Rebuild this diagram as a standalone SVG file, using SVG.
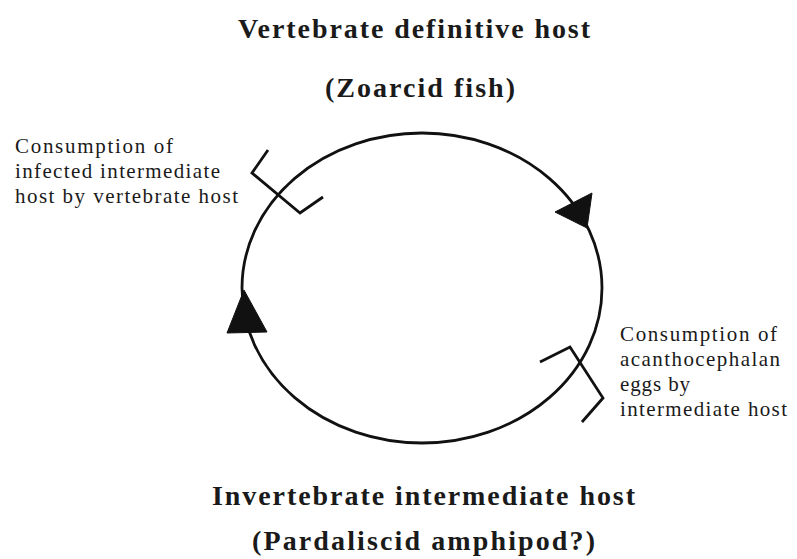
<svg xmlns="http://www.w3.org/2000/svg" width="797" height="559" viewBox="0 0 797 559">
<style>
.title{font-family:"Liberation Serif","Times New Roman",serif;font-weight:bold;font-size:28px;fill:#1a1a1a}
.label{font-family:"Liberation Serif","Times New Roman",serif;font-size:21px;fill:#1a1a1a}
.line{fill:none;stroke:#111;stroke-width:2.8;stroke-linejoin:miter}
.head{fill:#111;stroke:#111;stroke-width:1}
</style>
<rect width="797" height="559" fill="#ffffff"/>
<g id="definitive-host">
<text class="title" x="238" y="38" textLength="352" lengthAdjust="spacing">Vertebrate definitive host</text>
<text class="title" x="325" y="97" textLength="190" lengthAdjust="spacing">(Zoarcid fish)</text>
</g>
<g id="intermediate-host">
<text class="title" x="212" y="505" textLength="423" lengthAdjust="spacing">Invertebrate intermediate host</text>
<text class="title" x="252" y="550" textLength="343" lengthAdjust="spacing">(Pardaliscid amphipod?)</text>
</g>
<g id="label-left">
<text class="label" x="15" y="153" textLength="158" lengthAdjust="spacing">Consumption of</text>
<text class="label" x="15" y="178" textLength="205" lengthAdjust="spacing">infected intermediate</text>
<text class="label" x="15" y="203" textLength="223" lengthAdjust="spacing">host by vertebrate host</text>
</g>
<g id="label-right">
<text class="label" x="620" y="341" textLength="157" lengthAdjust="spacing">Consumption of</text>
<text class="label" x="620" y="366" textLength="160" lengthAdjust="spacing">acanthocephalan</text>
<text class="label" x="620" y="391" textLength="70" lengthAdjust="spacing">eggs by</text>
<text class="label" x="620" y="416" textLength="167" lengthAdjust="spacing">intermediate host</text>
</g>
<g id="connectors">
<ellipse class="line" cx="422" cy="288" rx="180" ry="155"/>
<polygon class="head" points="592,193 555,212 587,228"/>
<polygon class="head" points="244,290 227,333 267,332"/>
<polyline class="line" points="268,150 252,173 300,213 323,197"/>
<polyline class="line" points="540,362 570,347 603,398 582,422"/>
</g>
</svg>
